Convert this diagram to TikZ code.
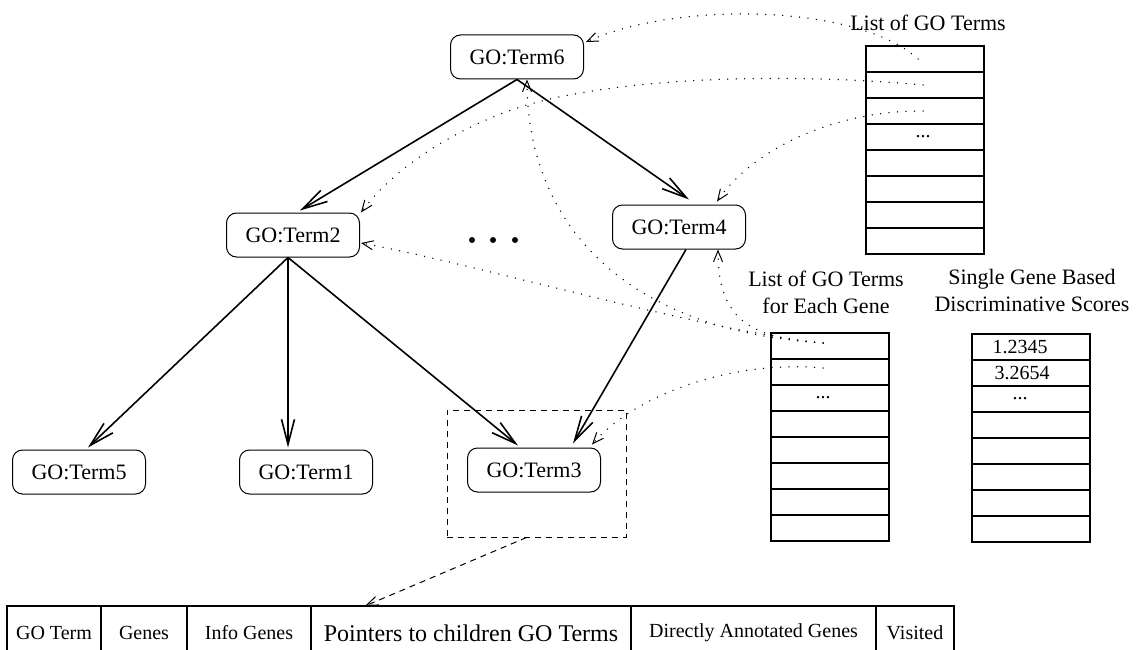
\documentclass[tikz,border=0pt]{standalone}
\usepackage{fontspec}
\setmainfont{Liberation Serif}
\usetikzlibrary{arrows.meta,calc}

\begin{document}
\begin{tikzpicture}[x=1pt,y=-1pt,
  term/.style={draw, rounded corners=10pt, minimum width=133pt, minimum height=44pt,
    line width=1pt, inner sep=0pt, font=\fontsize{22}{26}\selectfont},
  tree/.style={line width=1.6pt, -{Straight Barb[length=25pt,width=13pt]}},
  dotarr/.style={line width=1.5pt, line cap=round, dash pattern=on 0pt off 8.5pt,
    -{Straight Barb[length=11pt,width=9pt,line width=1pt,line cap=butt]}},
  dasharr/.style={line width=1pt, dash pattern=on 6pt off 5pt,
    -{Straight Barb[length=12pt,width=9pt]}},
  frame/.style={draw, line width=1pt, dash pattern=on 6pt off 5pt, inner sep=0pt},
  cell/.style={draw, line width=1.1pt, minimum width=118pt, minimum height=26pt,
    inner sep=0pt, outer sep=0pt},
  celltext/.style={inner sep=0pt, font=\fontsize{20}{24}\selectfont},
  title/.style={inner sep=0pt, align=center, font=\fontsize{22}{27}\selectfont},
  bcell/.style={draw, line width=1.1pt, minimum height=54pt, inner sep=0pt,
    outer sep=0pt, anchor=north west, font=\fontsize{20}{24}\selectfont},
  bigtext/.style={font=\fontsize{24}{28}\selectfont},
]
\useasboundingbox (0,0) rectangle (1146,650);

% GO term hierarchy
\node[term] (t6) at (517,57) {GO:Term6};
\node[term] (t2) at (293,235) {GO:Term2};
\node[term] (t4) at (679,227) {GO:Term4};
\node[term] (t5) at (79,472) {GO:Term5};
\node[term] (t1) at (306,472) {GO:Term1};
\node[term] (t3) at (534,470) {GO:Term3};
\node[frame, minimum width=179pt, minimum height=127pt] (box3) at (536.5,473.5) {};

\draw[tree] (t6.south) -- ([xshift=7pt,yshift=2pt]t2.north);
\draw[tree] (t6.south) -- ([xshift=10pt,yshift=5pt]t4.north);
\draw[tree] ([xshift=-5pt]t2.south) -- ([xshift=9pt,yshift=2pt]t5.north);
\draw[tree] ([xshift=-5pt]t2.south) -- ([xshift=-18pt,yshift=2pt]t1.north);
\draw[tree] ([xshift=-5pt]t2.south) -- ([xshift=-16pt,yshift=2pt]t3.north);
\draw[tree] ([xshift=7pt]t4.south) -- ([xshift=39pt,yshift=4pt]t3.north);

% ellipsis between siblings
\fill (472,240) circle (3pt);
\fill (493,240) circle (3pt);
\fill (515,240) circle (3pt);

% list of GO terms
\node[title] (listT) at (928,23) {List of GO Terms};
\foreach \i in {1,...,8}
  \node[cell] (gl-\i) at (925,{33+26*\i}) {};
\node[celltext] (gl-dots) at (923,137) {...};

% list of GO terms for each gene
\node[title] (geneT) at (826,292) {List of GO Terms\\for Each Gene};
\foreach \i in {1,...,8}
  \node[cell] (gg-\i) at (830,{320+26*\i}) {};
\node[celltext] (gg-dots) at (823,398) {...};

% single gene scores
\node[title] (scoreT) at (1032,290) {Single Gene Based\\Discriminative Scores};
\foreach \i in {1,...,8}
  \node[cell] (gs-\i) at (1031,{321+26*\i}) {};
\node[celltext] (gs-v1) at (1020,347) {1.2345};
\node[celltext] (gs-v2) at (1022,373) {3.2654};
\node[celltext] (gs-dots) at (1020,399) {...};

% record layout of a GO term node
\node[bcell, minimum width=94pt] (c1) at (7,606) {GO Term};
\node[bcell, minimum width=86pt] (c2) at (c1.north east) {Genes};
\node[bcell, minimum width=124pt] (c3) at (c2.north east) {Info Genes};
\node[bcell, minimum width=320pt, bigtext] (c4) at (c3.north east) {Pointers to children GO Terms};
\node[bcell, minimum width=245pt] (c5) at (c4.north east) {Directly Annotated Genes};
\node[bcell, minimum width=78pt] (c6) at (c5.north east) {Visited};

\draw[dasharr] ([xshift=-10pt]box3.south) -- ([xshift=-106pt]c4.north);

% pointers from the lists into the hierarchy
\draw[dotarr] ([xshift=-7pt]gl-1.center) .. controls (860,5) and (680,0)
  .. ([xshift=2pt,yshift=15pt]t6.east);
\draw[dotarr] ([xshift=-2pt]gl-2.center) .. controls (780,72) and (620,78) .. (527,105)
  .. controls (470,122) and (400,160) .. ([xshift=1pt]t2.north east);
\draw[dotarr] ([xshift=-2pt]gl-3.center) .. controls (850,110) and (760,140)
  .. ([xshift=38pt,yshift=3pt]t4.north);
\draw[dotarr] ([xshift=-7pt,yshift=3pt]gg-1.center) .. controls (620,330) and (527,220)
  .. ([xshift=10pt]t6.south);
\draw[dotarr] ([xshift=-7pt,yshift=3pt]gg-1.center) .. controls (750,338) and (718,320)
  .. ([xshift=39pt]t4.south);
\draw[dotarr] ([xshift=-7pt,yshift=3pt]gg-1.center) .. controls (700,330) and (480,265)
  .. ([xshift=1pt,yshift=-8pt]t2.east);
\draw[dotarr] ([xshift=-7pt,yshift=4pt]gg-2.center) .. controls (740,360) and (640,390)
  .. ([xshift=58pt,yshift=3pt]t3.north);
\end{tikzpicture}
\end{document}
